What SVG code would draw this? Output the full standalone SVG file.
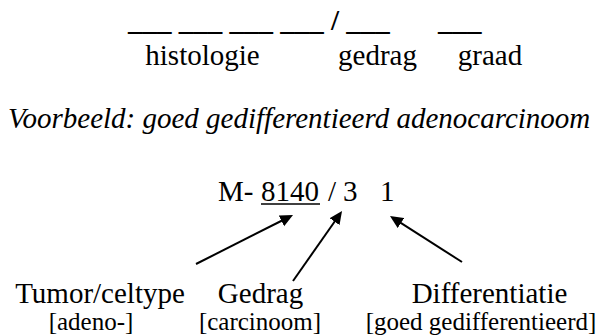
<svg xmlns="http://www.w3.org/2000/svg" width="606" height="336" viewBox="0 0 606 336" font-family="Liberation Serif, Times New Roman, DejaVu Serif, serif">
<style>
text{font-family:'Liberation Serif','Times New Roman','DejaVu Serif',serif;fill:#000}
.t{font-size:29px}
.s{font-size:25px}
.i{font-size:29px;font-style:italic}
.b{font-weight:bold}
.c{text-anchor:middle}
.a{stroke:#000;stroke-width:2;fill:none}
</style>
<defs>
<marker id="h" markerUnits="userSpaceOnUse" markerWidth="14" markerHeight="13" refX="3" refY="6" orient="auto">
<path d="M0,0 L13,6 L0,12 z" fill="#000"/>
</marker>
</defs>
<rect width="606" height="336" fill="#fff"/>
<g id="code-template">
<text class="t b" x="128" y="30">___ ___ ___ ___ / ___</text>
<text class="t b" x="438" y="30">___</text>
<text class="t c" x="202.5" y="65">histologie</text>
<text class="t c" x="377.5" y="65">gedrag</text>
<text class="t c" x="490" y="65">graad</text>
</g>
<g id="example">
<text class="i" x="8" y="128">Voorbeeld: goed gedifferentieerd adenocarcinoom</text>
</g>
<g id="code">
<text class="t" y="201"><tspan x="218">M-</tspan><tspan x="261">8140</tspan><tspan x="328">/</tspan><tspan x="343">3</tspan><tspan x="380">1</tspan></text>
<line x1="261" y1="204" x2="320" y2="204" stroke="#000" stroke-width="1.5"/>
</g>
<g id="tumor">
<text class="t c" x="100" y="303">Tumor/celtype</text>
<text class="s c" x="91" y="330">[adeno-]</text>
</g>
<g id="gedrag">
<text class="t c" x="260.5" y="303">Gedrag</text>
<text class="s c" x="260" y="330">[carcinoom]</text>
</g>
<g id="differentiatie">
<text class="t c" x="489.5" y="303">Differentiatie</text>
<text class="s c" x="481" y="330">[goed gedifferentieerd]</text>
</g>
<g id="connectors">
<line class="a" x1="196" y1="264" x2="284.1" y2="219.5" marker-end="url(#h)"/>
<line class="a" x1="293" y1="281" x2="336.3" y2="219.2" marker-end="url(#h)"/>
<line class="a" x1="462" y1="262" x2="398.4" y2="221.4" marker-end="url(#h)"/>
</g>
</svg>
